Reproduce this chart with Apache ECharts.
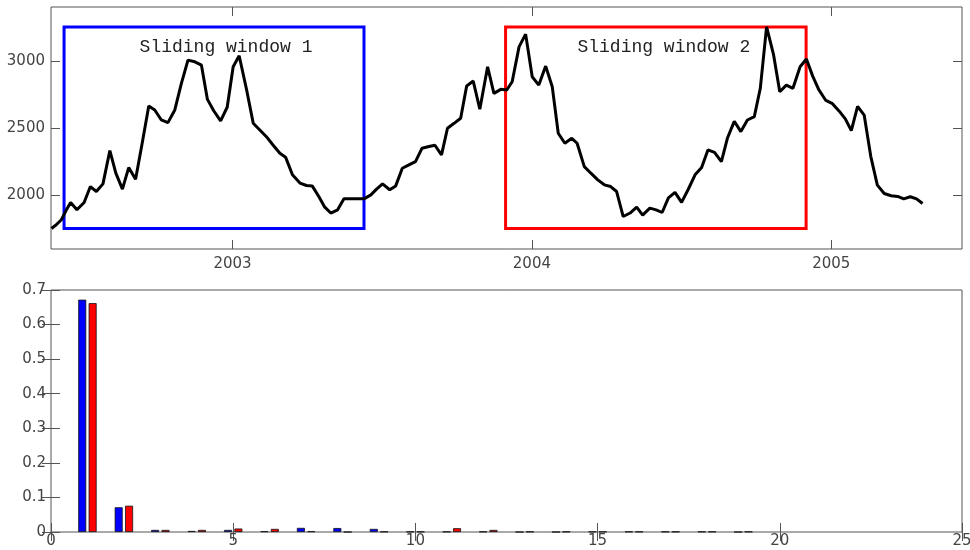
<!DOCTYPE html>
<html>
<head>
<meta charset="utf-8">
<title>Sliding windows</title>
<script src="https://cdn.jsdelivr.net/npm/echarts@6/dist/echarts.min.js"></script>
<style>
  html, body { margin: 0; padding: 0; background: #fff; }
  #chart { width: 970px; height: 550px; }
</style>
</head>
<body>
<div id="chart"></div>
<script>
// Weekly series (x in decimal years)
const timeYears = [
  2002.395, 2002.411, 2002.428, 2002.445, 2002.459, 2002.480, 2002.504, 2002.525, 2002.545, 2002.567,
  2002.590, 2002.610, 2002.632, 2002.653, 2002.676, 2002.698, 2002.720, 2002.740, 2002.762, 2002.784,
  2002.807, 2002.829, 2002.851, 2002.874, 2002.896, 2002.916, 2002.937, 2002.960, 2002.982, 2003.002,
  2003.022, 2003.047, 2003.069, 2003.091, 2003.113, 2003.135, 2003.158, 2003.177, 2003.200, 2003.225,
  2003.247, 2003.266, 2003.288, 2003.308, 2003.328, 2003.351, 2003.372, 2003.392, 2003.415, 2003.439,
  2003.462, 2003.481, 2003.501, 2003.525, 2003.545, 2003.567, 2003.589, 2003.611, 2003.633, 2003.656,
  2003.676, 2003.698, 2003.718, 2003.740, 2003.762, 2003.782, 2003.804, 2003.826, 2003.852, 2003.873,
  2003.896, 2003.916, 2003.934, 2003.957, 2003.979, 2004.001, 2004.023, 2004.046, 2004.068, 2004.088,
  2004.110, 2004.133, 2004.151, 2004.175, 2004.197, 2004.220, 2004.242, 2004.263, 2004.283, 2004.305,
  2004.328, 2004.350, 2004.370, 2004.394, 2004.415, 2004.435, 2004.456, 2004.478, 2004.500, 2004.522,
  2004.545, 2004.567, 2004.588, 2004.610, 2004.633, 2004.653, 2004.676, 2004.698, 2004.720, 2004.743,
  2004.763, 2004.784, 2004.807, 2004.828, 2004.850, 2004.872, 2004.896, 2004.917, 2004.938, 2004.959,
  2004.982, 2005.004, 2005.026, 2005.047, 2005.067, 2005.088, 2005.110, 2005.132, 2005.154, 2005.177,
  2005.200, 2005.222, 2005.242, 2005.264, 2005.285, 2005.305
];
const seriesValues = [
  1750, 1778, 1816, 1890, 1945, 1890, 1945, 2064, 2027, 2084,
  2333, 2164, 2045, 2206, 2119, 2388, 2666, 2637, 2562, 2542,
  2637, 2836, 3010, 2997, 2972, 2716, 2631, 2555, 2657, 2960,
  3042, 2786, 2537, 2487, 2437, 2375, 2313, 2284, 2152, 2090,
  2072, 2069, 1990, 1910, 1866, 1890, 1972, 1972, 1972, 1972,
  2002, 2045, 2084, 2040, 2069, 2201, 2226, 2251, 2351, 2363,
  2373, 2301, 2500, 2537, 2575, 2816, 2853, 2642, 2960, 2761,
  2791, 2786, 2848, 3109, 3204, 2885, 2823, 2965, 2810, 2463,
  2388, 2425, 2388, 2213, 2164, 2114, 2077, 2064, 2027, 1840,
  1866, 1910, 1850, 1903, 1890, 1870, 1980, 2020, 1946, 2042,
  2152, 2207, 2338, 2320, 2251, 2425, 2552, 2475, 2562, 2587,
  2799, 3258, 3053, 2773, 2823, 2799, 2960, 3018, 2890, 2786,
  2708, 2684, 2630, 2570, 2482, 2664, 2599, 2290, 2075, 2012,
  1995, 1990, 1972, 1988, 1972, 1937
];
const yearTicks = [2003, 2004, 2005];
const valueTicks = [2000, 2500, 3000];

// One-year analysis windows
const windowNames = ['Sliding window 1', 'Sliding window 2'];
const windowStarts = [2002.437, 2003.912];
const windowEnds = [2003.439, 2004.916];
const windowColors = ['#0000ff', '#ff0000'];

// Spectrum of each window
const harmonics = [1, 2, 3, 4, 5, 6, 7, 8, 9, 10, 11, 12, 13, 14, 15, 16, 17, 18, 19];
const window1Power = [0.672, 0.0715, 0.006, 0.003, 0.006, 0.002, 0.012, 0.0115, 0.009, 0.001,
                      0.001, 0.001, 0.0, 0.0, 0.001, 0.001, 0.001, 0.001, 0.0];
const window2Power = [0.662, 0.076, 0.006, 0.006, 0.010, 0.009, 0.002, 0.0, 0.001, 0.001,
                      0.011, 0.006, 0.001, 0.001, 0.001, 0.001, 0.001, 0.001, 0.001];

const axisColor = '#555';
const labelFont = { fontFamily: 'DejaVu Sans', fontSize: 15, color: '#444' };

const lineData = timeYears.map((t, i) => [t, seriesValues[i]]);
const vMin = Math.min(...seriesValues);
const vMax = Math.max(...seriesValues);
const labelShift = [12, 8];

const windowAreas = windowNames.map((name, i) => [
  {
    name: name,
    xAxis: windowStarts[i],
    yAxis: vMin,
    itemStyle: { color: 'rgba(0,0,0,0)', borderColor: windowColors[i], borderWidth: 3 },
    label: {
      show: true,
      position: 'insideTop',
      distance: 13,
      offset: [labelShift[i], 0],
      fontFamily: 'Liberation Mono',
      fontSize: 18,
      color: '#222'
    }
  },
  { xAxis: windowEnds[i], yAxis: vMax }
]);

const tickInside = { show: true, inside: true, length: 9, lineStyle: { color: axisColor, width: 1 } };

const option = {
  animation: false,
  backgroundColor: '#fff',
  grid: [
    { left: 51, right: 8, top: 7, bottom: 301, show: true, borderColor: axisColor, borderWidth: 1,
      backgroundColor: '#fff', containLabel: false, outerBoundsMode: 'none' },
    { left: 51, right: 8, top: 290, bottom: 18, show: true, borderColor: axisColor, borderWidth: 1,
      backgroundColor: '#fff', containLabel: false, outerBoundsMode: 'none' }
  ],
  xAxis: [
    {
      type: 'value', gridIndex: 0, min: 2002.3934, max: 2005.4368, position: 'bottom',
      axisLine: { show: false }, splitLine: { show: false },
      axisTick: Object.assign({ customValues: yearTicks }, tickInside),
      axisLabel: Object.assign({ customValues: yearTicks, margin: 8, formatter: v => String(Math.round(v)) }, labelFont)
    },
    {
      type: 'value', gridIndex: 0, min: 2002.3934, max: 2005.4368, position: 'top',
      axisLine: { show: false }, splitLine: { show: false },
      axisTick: Object.assign({ customValues: yearTicks }, tickInside),
      axisLabel: { show: false }
    },
    {
      type: 'value', gridIndex: 1, min: 0, max: 25, interval: 5, position: 'bottom',
      axisLine: { show: false }, splitLine: { show: false },
      axisTick: tickInside,
      axisLabel: Object.assign({ margin: 2 }, labelFont)
    },
    {
      type: 'value', gridIndex: 1, min: 0, max: 25, interval: 5, position: 'top',
      axisLine: { show: false }, splitLine: { show: false },
      axisTick: tickInside,
      axisLabel: { show: false }
    }
  ],
  yAxis: [
    {
      type: 'value', gridIndex: 0, min: 1597, max: 3407, position: 'left',
      axisLine: { show: false }, splitLine: { show: false },
      axisTick: Object.assign({ customValues: valueTicks }, tickInside),
      axisLabel: Object.assign({ customValues: valueTicks, margin: 6, formatter: v => String(Math.round(v)) }, labelFont)
    },
    {
      type: 'value', gridIndex: 0, min: 1597, max: 3407, position: 'right',
      axisLine: { show: false }, splitLine: { show: false },
      axisTick: Object.assign({ customValues: valueTicks }, tickInside),
      axisLabel: { show: false }
    },
    {
      type: 'value', gridIndex: 1, min: 0, max: 0.7, interval: 0.1, position: 'left',
      axisLine: { show: false }, splitLine: { show: false },
      axisTick: tickInside,
      axisLabel: Object.assign({ margin: 5, formatter: v => (v === 0 ? '0' : v.toFixed(1)) }, labelFont)
    },
    {
      type: 'value', gridIndex: 1, min: 0, max: 0.7, interval: 0.1, position: 'right',
      axisLine: { show: false }, splitLine: { show: false },
      axisTick: tickInside,
      axisLabel: { show: false }
    }
  ],
  series: [
    {
      type: 'line',
      xAxisIndex: 0, yAxisIndex: 0,
      data: lineData,
      showSymbol: false,
      symbol: 'none',
      lineStyle: { color: '#000', width: 3 },
      z: 3,
      markArea: {
        silent: true,
        data: windowAreas
      }
    },
    {
      type: 'bar',
      name: windowNames[0],
      xAxisIndex: 2, yAxisIndex: 2,
      data: harmonics.map((h, i) => [h, window1Power[i]]),
      barWidth: 8,
      barGap: '30%',
      itemStyle: { color: windowColors[0], borderColor: '#111', borderWidth: 0.8 }
    },
    {
      type: 'bar',
      name: windowNames[1],
      xAxisIndex: 2, yAxisIndex: 2,
      data: harmonics.map((h, i) => [h, window2Power[i]]),
      barWidth: 8,
      barGap: '30%',
      itemStyle: { color: windowColors[1], borderColor: '#111', borderWidth: 0.8 }
    }
  ]
};

const chart = echarts.init(document.getElementById('chart'), null, { renderer: 'canvas' });
chart.setOption(option);
</script>
</body>
</html>
